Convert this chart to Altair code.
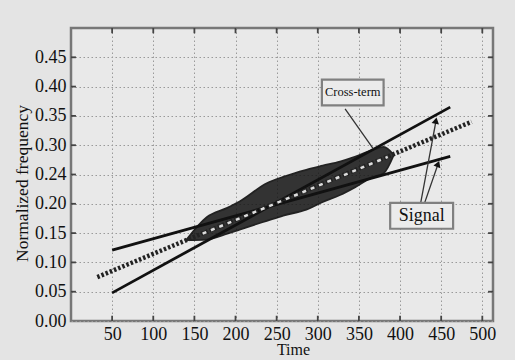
import altair as alt
import pandas as pd

# ---------------- data ----------------
x_domain = [0, 513]
y_domain = [0, 0.5]

x_ticks = [50, 100, 150, 200, 250, 300, 350, 400, 450, 500]
y_ticks = [0.0, 0.05, 0.10, 0.15, 0.20, 0.25, 0.30, 0.35, 0.40, 0.45]
y_tick_labels = ["0.00", "0.05", "0.10", "0.15", "0.20", "0.24", "0.30", "0.35", "0.40", "0.45"]

# two linear chirp signals (straight ridges)
sig_a_x = [50, 461]
sig_a_y = [0.121, 0.281]
sig_b_x = [50, 461]
sig_b_y = [0.048, 0.365]

# cross-term ridge (midway between the signals)
cross_x = [32, 487]
cross_y = [0.075, 0.340]

# light "chevron" holes of the cross-term inside the dense contour band
hole_x = [160, 385]
hole_y = [0.149, 0.280]

# envelope of the dense contour band where the two signals overlap
lens_x = [140, 165, 190, 205, 238, 258, 286, 306, 327, 345, 367, 380, 392]
lens_upper = [0.138, 0.177, 0.193, 0.204, 0.235, 0.246, 0.258, 0.265, 0.272, 0.280, 0.292, 0.297, 0.284]
lens_lower = [0.138, 0.139, 0.149, 0.156, 0.171, 0.180, 0.190, 0.203, 0.215, 0.228, 0.246, 0.252, 0.282]

# annotations
box_labels = ["Cross-term", "Signal"]
box_x1 = [305, 388]
box_x2 = [380, 464.5]
box_y1 = [0.412, 0.2016]
box_y2 = [0.368, 0.1574]
box_font = [12.5, 18]

leader_x1 = [333.2, 425.3, 430.2]
leader_y1 = [0.362, 0.2028, 0.2028]
leader_x2 = [367.3, 443.5, 446.0]
leader_y2 = [0.294, 0.340, 0.267]

arrow_x = [443.6, 446.2]
arrow_y = [0.342, 0.268]
arrow_angle = [11, 21]

FONT = "Liberation Serif"

# ---------------- tables ----------------
sig_df = pd.DataFrame({
    "x": sig_a_x + sig_b_x,
    "y": sig_a_y + sig_b_y,
    "s": ["A", "A", "B", "B"],
})
cross_df = pd.DataFrame({"x": cross_x, "y": cross_y})
hole_df = pd.DataFrame({"x": hole_x, "y": hole_y})
lens_df = pd.DataFrame({"x": lens_x, "y": lens_upper, "y2": lens_lower})
box_df = pd.DataFrame({
    "x": box_x1, "x2": box_x2, "y": box_y1, "y2": box_y2,
    "label": box_labels, "size": box_font,
    "cx": [(a + b) / 2 for a, b in zip(box_x1, box_x2)],
    "cy": [(a + b) / 2 for a, b in zip(box_y1, box_y2)],
})
leader_df = pd.DataFrame({"x": leader_x1, "y": leader_y1, "x2": leader_x2, "y2": leader_y2})
arrow_df = pd.DataFrame({"x": arrow_x, "y": arrow_y, "a": arrow_angle})

tick_len_x = 6
tick_len_y = 0.009
xt_bottom = pd.DataFrame({"x": x_ticks, "y": [y_domain[0]] * len(x_ticks),
                          "y2": [y_domain[0] + tick_len_y] * len(x_ticks)})
xt_top = pd.DataFrame({"x": x_ticks, "y": [y_domain[1]] * len(x_ticks),
                       "y2": [y_domain[1] - tick_len_y] * len(x_ticks)})
yt_left = pd.DataFrame({"y": y_ticks[1:], "x": [x_domain[0]] * (len(y_ticks) - 1),
                        "x2": [x_domain[0] + tick_len_x] * (len(y_ticks) - 1)})
yt_right = pd.DataFrame({"y": y_ticks[1:], "x": [x_domain[1]] * (len(y_ticks) - 1),
                         "x2": [x_domain[1] - tick_len_x] * (len(y_ticks) - 1)})

# ---------------- scales / axes ----------------
xs = alt.Scale(domain=x_domain, nice=False, zero=False)
ys = alt.Scale(domain=y_domain, nice=False, zero=False)

label_expr = "[" + ",".join("'%s'" % s for s in y_tick_labels) + "][round(datum.value*20)]"

GRID = "#9a9a9a"
x_axis = alt.Axis(
    values=x_ticks, title="Time", grid=True, gridDash=[1.5, 2.5], gridColor=GRID,
    gridWidth=1, domain=False, ticks=False, labelFont=FONT, labelFontSize=18,
    labelColor="#111", labelPadding=4, titleFont=FONT, titleFontSize=16,
    titleFontWeight="normal", titleColor="#111", titleX=222, titleY=33.5,
    titleBaseline="alphabetic", labelFlush=False,
)
y_axis = alt.Axis(
    values=y_ticks, labelExpr=label_expr, title="Normalized frequency", grid=True,
    gridDash=[1.5, 2.5], gridColor=GRID, gridWidth=1, domain=False, ticks=False,
    labelFont=FONT, labelFontSize=18, labelColor="#111", labelPadding=5,
    titleFont=FONT, titleFontSize=17.5, titleFontWeight="normal", titleColor="#111",
    titleAngle=270, titleX=-44, titleY=155, titleBaseline="alphabetic",
    titleAlign="center", labelFlush=False,
)

X = alt.X("x:Q", scale=xs, axis=x_axis)
Y = alt.Y("y:Q", scale=ys, axis=y_axis)

lens = alt.Chart(lens_df).mark_area(
    color="#141414", opacity=0.85, stroke="#000", strokeWidth=1.8,
    interpolate="monotone"
).encode(x=X, y=Y, y2="y2:Q")

signals = alt.Chart(sig_df).mark_line(color="#111", strokeWidth=2.8).encode(
    x=X, y=Y, detail="s:N")

cross = alt.Chart(cross_df).mark_line(
    color="#222", strokeWidth=4.5, strokeDash=[2.5, 2]).encode(x=X, y=Y)

holes = alt.Chart(hole_df).mark_line(
    color="#dcdcdc", strokeWidth=2.5, strokeDash=[4, 5]).encode(x=X, y=Y)

ticks_layers = [
    alt.Chart(xt_bottom).mark_rule(color="#444", strokeWidth=1.8).encode(x=X, y=Y, y2="y2:Q"),
    alt.Chart(xt_top).mark_rule(color="#444", strokeWidth=1.8).encode(x=X, y=Y, y2="y2:Q"),
    alt.Chart(yt_left).mark_rule(color="#444", strokeWidth=1.8).encode(x=X, x2="x2:Q", y=Y),
    alt.Chart(yt_right).mark_rule(color="#444", strokeWidth=1.8).encode(x=X, x2="x2:Q", y=Y),
]

leaders = alt.Chart(leader_df).mark_rule(color="#333", strokeWidth=1.3).encode(
    x=X, y=Y, x2="x2:Q", y2="y2:Q")

arrows = alt.Chart(arrow_df).mark_point(
    shape="triangle-up", filled=True, color="#111", size=55, opacity=1
).encode(x=X, y=Y, angle=alt.Angle("a:Q", scale=None))

boxes = alt.Chart(box_df).mark_rect(
    fill="#ebebeb", stroke="#808080", strokeWidth=2.2).encode(x=X, x2="x2:Q", y=Y, y2="y2:Q")

box_text = alt.Chart(box_df).mark_text(
    font=FONT, color="#111", baseline="middle", align="center"
).encode(
    x=alt.X("cx:Q", scale=xs, axis=x_axis),
    y=alt.Y("cy:Q", scale=ys, axis=y_axis),
    text="label:N",
    size=alt.Size("size:Q", scale=None),
)

chart = alt.layer(
    lens, signals, cross, holes, *ticks_layers, leaders, arrows, boxes, box_text
).properties(
    width=422, height=293,
    autosize=alt.AutoSizeParams(type="none"),
    padding={"left": 71, "top": 28, "right": 22, "bottom": 39},
    background="#e4e4e4",
).configure_view(
    fill="#e9e9e9", stroke="#777777", strokeWidth=2.5,
)

chart.save("out.html", embed_options={"renderer": "svg", "actions": False})
